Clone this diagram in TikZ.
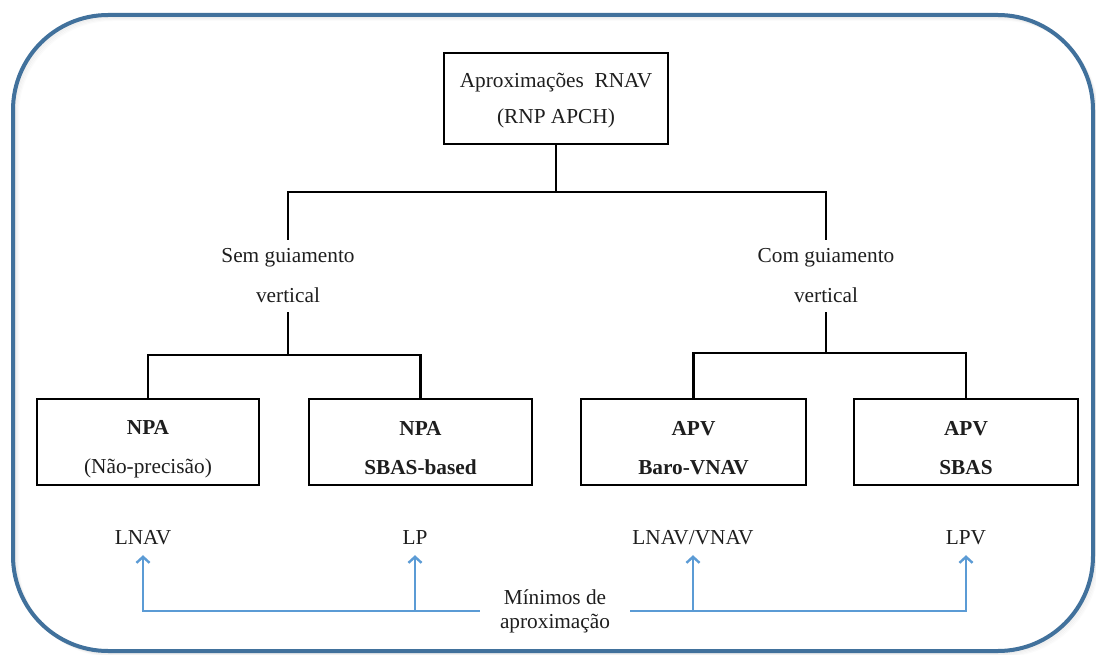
\documentclass[tikz,border=0pt]{standalone}
\usepackage{fontspec}
\setmainfont{Liberation Serif}
\usetikzlibrary{arrows.meta,calc}
\definecolor{framec}{RGB}{65,113,156}
\definecolor{arrowc}{RGB}{91,155,213}
\definecolor{txtc}{RGB}{30,30,30}
\begin{document}
\begin{tikzpicture}[x=1pt,y=-1pt,
  txt/.style={text=txtc,font=\fontsize{21.3}{40}\selectfont,align=center,inner sep=0pt},
  boxc/.style={draw=black,line width=2.8pt,minimum width=#1,minimum height=86pt,inner sep=0pt},
  tree/.style={draw=black,line width=2.6pt},
  bl/.style={draw=arrowc,line width=2.4pt},
  blarrow/.style={bl,-{Straight Barb[length=6pt,width=13pt]}},
  minlab/.style={txt,text height=14pt,text depth=0pt,inner ysep=11pt}]
\useasboundingbox (0,0) rectangle (1096,655);
\fill[white] (0,0) rectangle (1096,655);
% shadow
\foreach \i/\o in {1/0.05,2/0.04,3/0.03,4/0.02,5/0.015}{
  \draw[black,opacity=\o,line width=2pt,rounded corners=95pt] (13+\i,15+\i) rectangle (1093+\i,651+\i);
}
% frame
\draw[framec,line width=4pt,rounded corners=95pt] (13,15) rectangle (1093,651);

% top box
\node[boxc=224pt,minimum height=91pt] (ap) at (556,98.5) {};
\node[txt,font=\fontsize{21.3}{36}\selectfont] (apt) at (556,101) {Aproximações\ \ RNAV\\(RNP APCH)};

% branch labels
\node[txt,inner ysep=9pt] (sem) at (288,276) {Sem guiamento\\vertical};
\node[txt,inner ysep=9pt] (com) at (826,276) {Com guiamento\\vertical};

% bottom boxes
\node[boxc=222pt] (npa1) at (148,442) {};
\node[boxc=223pt] (npa2) at (420.5,442) {};
\node[boxc=225pt] (apv1) at (693.5,442) {};
\node[boxc=224pt] (apv2) at (966,442) {};
\node[txt,font=\fontsize{21.3}{39}\selectfont] (npa1t) at ($(npa1.center)+(0,7)$) {\textbf{NPA}\\(Não-precisão)};
\node[txt,font=\fontsize{21.3}{39}\selectfont\bfseries] (npa2t) at ($(npa2.center)+(0,6)$) {NPA\\SBAS-based};
\node[txt,font=\fontsize{21.3}{39}\selectfont\bfseries] (apv1t) at ($(apv1.center)+(0,6)$) {APV\\Baro-VNAV};
\node[txt,font=\fontsize{21.3}{39}\selectfont\bfseries] (apv2t) at ($(apv2.center)+(0,6)$) {APV\\SBAS};

% tree connectors
\coordinate (h1) at (556,192);
\coordinate (h2) at (288,355);
\coordinate (h3) at (826,353);
\draw[tree] (ap.south) -- (h1);
\draw[tree] (sem.north) |- (h1) -| (com.north);
\draw[tree] (sem.south) -- (h2);
\draw[tree] (npa1.north) |- (h2) -| (npa2.north);
\draw[tree] (com.south) -- (h3);
\draw[tree] (apv1.north) |- (h3) -| (apv2.north);

% minima labels
\node[minlab] (lnav) at (143,537) {LNAV};
\node[minlab] (lp) at (415,537) {LP};
\node[minlab] (lnvn) at (693,537) {LNAV/VNAV};
\node[minlab] (lpv) at (966,537) {LPV};
\node[txt,font=\fontsize{21.3}{24}\selectfont,inner xsep=20pt] (mn) at (555,611) {Mínimos de\\aproximação};

% blue arrows
\coordinate (jl) at (mn.west);
\coordinate (jr) at (mn.east);
\draw[blarrow] (jl) -| (lnav.south);
\draw[blarrow] (jl -| lp.south) -- (lp.south);
\draw[blarrow] (jr) -| (lpv.south);
\draw[blarrow] (jr -| lnvn.south) -- (lnvn.south);
\end{tikzpicture}
\end{document}
